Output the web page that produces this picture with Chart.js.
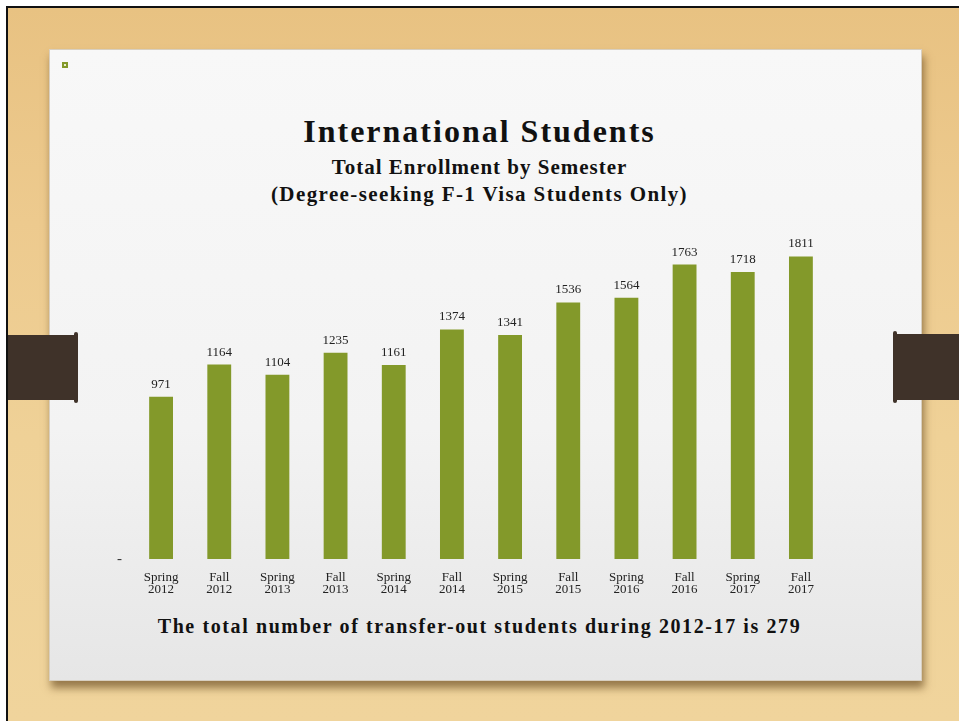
<!DOCTYPE html>
<html>
<head>
<meta charset="utf-8">
<script src="https://cdn.jsdelivr.net/npm/chart.js@4"></script>
<style>
  html, body { margin: 0; padding: 0; }
  body { width: 959px; height: 721px; position: relative; overflow: hidden; background: #fff; }
  #wood {
    position: absolute; left: 6px; top: 6px; right: 0; bottom: 0;
    border-left: 2px solid #111; border-top: 2px solid #111;
    background: linear-gradient(180deg, #e8c282 0%, #edca8e 30%, #efd197 60%, #f0d49c 100%);
  }
  #slide {
    position: absolute; left: 49px; top: 49px; width: 873px; height: 632px;
    background: linear-gradient(180deg, #f8f8f8 0%, #f3f3f3 60%, #e6e6e6 100%);
    box-shadow: 2px 7px 8px rgba(90, 60, 20, 0.6);
    border: 1px solid #d8cfc0;
    box-sizing: border-box;
  }
  .clip { position: absolute; background: #3f3229; }
  #clipL { left: 8px; top: 335px; width: 70px; height: 65px; border-radius: 0 3px 3px 0; }
  #clipL::after { content: ''; position: absolute; right: 0; top: -3px; width: 4px; height: 71px; background: #3f3229; border-radius: 2px; }
  #clipR { left: 893px; top: 334px; width: 66px; height: 66px; border-radius: 3px 0 0 3px; }
  #clipR::after { content: ''; position: absolute; left: 0; top: -3px; width: 4px; height: 72px; background: #3f3229; border-radius: 2px; }
  #dot { position: absolute; left: 62px; top: 62px; width: 6px; height: 6px; background: #83992a; }
  #dot::after { content: ''; position: absolute; left: 2px; top: 2px; width: 2px; height: 2px; background: #e8eed0; }
  .txt { position: absolute; left: 0; width: 959px; text-align: center; font-family: "Liberation Serif", "DejaVu Serif", serif; font-weight: bold; color: #111; white-space: nowrap; }
  #title { top: 113px; font-size: 32px; letter-spacing: 2px; }
  #sub1 { top: 155px; font-size: 21px; letter-spacing: 1px; }
  #sub2 { top: 182px; font-size: 21px; letter-spacing: 1.4px; }
  #note { top: 615px; font-size: 20px; letter-spacing: 1.6px; }
  #wrap { position: absolute; left: 0; top: 0; width: 959px; height: 721px; }
</style>
</head>
<body>
<div id="wood"></div>
<div id="slide"></div>
<div class="clip" id="clipL"></div>
<div class="clip" id="clipR"></div>
<div id="dot"></div>
<div class="txt" id="title">International Students</div>
<div class="txt" id="sub1">Total Enrollment by Semester</div>
<div class="txt" id="sub2">(Degree-seeking F-1 Visa Students Only)</div>
<div class="txt" id="note">The total number of transfer-out students during 2012-17 is 279</div>
<div id="wrap"><canvas id="chart" width="959" height="721"></canvas></div>
<script>
// semesters and enrollment counts
var terms = ['Spring', 'Fall', 'Spring', 'Fall', 'Spring', 'Fall', 'Spring', 'Fall', 'Spring', 'Fall', 'Spring', 'Fall'];
var years = ['2012', '2012', '2013', '2013', '2014', '2014', '2015', '2015', '2016', '2016', '2017', '2017'];
var enrollment = [971, 1164, 1104, 1235, 1161, 1374, 1341, 1536, 1564, 1763, 1718, 1811];

var labels = terms.map(function (t, i) { return [t, years[i]]; });
var serif = '"Liberation Serif", "DejaVu Serif", serif';

// write the count above each bar
var barValues = {
  id: 'barValues',
  afterDatasetsDraw: function (chart) {
    var ctx = chart.ctx;
    var meta = chart.getDatasetMeta(0);
    ctx.save();
    ctx.font = '13px ' + serif;
    ctx.fillStyle = '#222';
    ctx.textAlign = 'center';
    ctx.textBaseline = 'bottom';
    meta.data.forEach(function (bar, i) {
      ctx.fillText(enrollment[i], bar.x, bar.y - 6);
    });
    ctx.restore();
  }
};

new Chart(document.getElementById('chart'), {
  type: 'bar',
  data: {
    labels: labels,
    datasets: [{
      data: enrollment,
      backgroundColor: '#83992a',
      barPercentage: 0.41,
      categoryPercentage: 1
    }]
  },
  options: {
    responsive: false,
    animation: false,
    layout: { padding: { left: 112, right: 129, top: 225, bottom: 122 } },
    plugins: { legend: { display: false }, tooltip: { enabled: false } },
    scales: {
      x: {
        grid: { display: false },
        border: { display: false },
        ticks: {
          color: '#222',
          font: { family: serif, size: 13, lineHeight: 0.95 },
          padding: 4,
          maxRotation: 0,
          autoSkip: false
        },
        afterFit: function (s) { s.height = 40; }
      },
      y: {
        min: 0,
        max: 2000,
        grid: { display: false, drawTicks: false },
        border: { display: false },
        ticks: {
          stepSize: 2000,
          color: '#333',
          font: { family: serif, size: 15 },
          padding: 10,
          callback: function (v) { return v === 0 ? '-' : ''; }
        },
        afterFit: function (s) { s.width = 20; }
      }
    }
  },
  plugins: [barValues]
});
</script>
</body>
</html>
